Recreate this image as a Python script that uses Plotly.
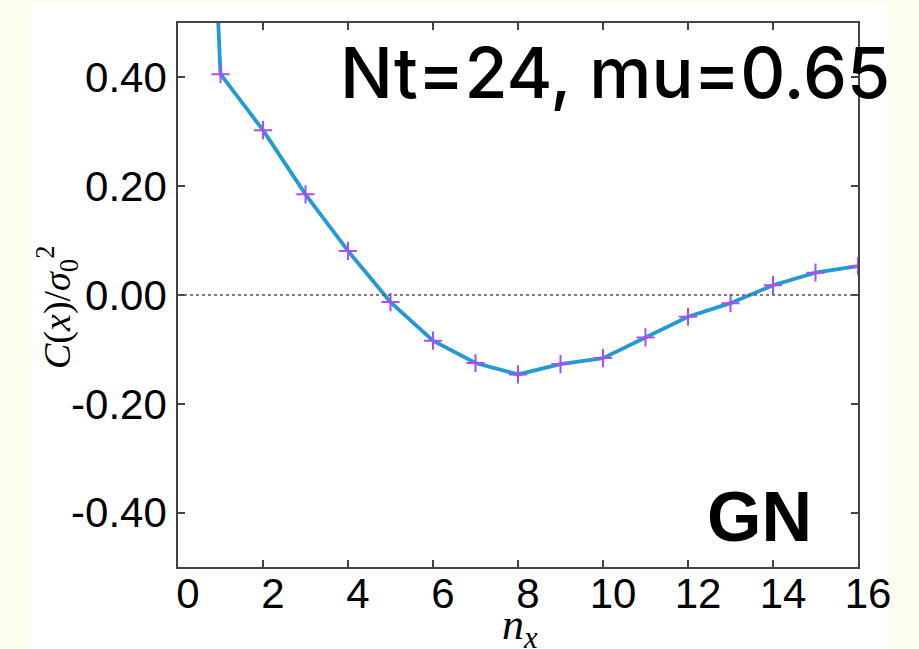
import plotly.graph_objects as go

# Data
n_x = [0, 1, 2, 3, 4, 5, 6, 7, 8, 9, 10, 11, 12, 13, 14, 15, 16]
corr = [2.2, 0.406, 0.303, 0.185, 0.081, -0.013, -0.084, -0.125, -0.146,
        -0.127, -0.116, -0.078, -0.040, -0.015, 0.018, 0.041, 0.053]

x_tick_vals = [0, 2, 4, 6, 8, 10, 12, 14, 16]
x_tick_text = ["0", "2", "4", "6", "8", "10", "12", "14", "16"]
y_tick_vals = [-0.4, -0.2, 0.0, 0.2, 0.4]
y_tick_text = ["-0.40", "-0.20", "0.00", "0.20", "0.40"]

title_text = "Nt=24, mu=0.65"
label_text = "GN"
x_title = "<i>n</i><sub><i>x</i></sub>"
y_title = "<i>C</i>(<i>x</i>)/<i>σ</i><sub>0</sub><sup>2</sup>"

W, H = 919, 649
L, R, T, B = 178, 61, 23, 82
pw, ph = W - L - R, H - T - B

def px(xp):
    return (xp - L) / pw

def py(yp):
    return (H - B - yp) / ph

fig = go.Figure()

fig.add_trace(go.Scatter(
    x=n_x, y=corr, mode="lines+markers",
    line=dict(color="#2399d6", width=3.8),
    marker=dict(symbol="cross-thin", size=13, color="#b04cf0",
                line=dict(color="#b04cf0", width=2)),
    showlegend=False, cliponaxis=True,
))

# white panel on the cream background
fig.add_shape(type="rect", xref="paper", yref="paper",
              x0=px(31), x1=px(887), y0=py(660), y1=py(4),
              fillcolor="white", line=dict(width=0), layer="below")
# dotted zero line
fig.add_shape(type="line", xref="paper", yref="y", x0=0, x1=1, y0=0, y1=0,
              line=dict(color="#555555", width=1.5, dash="dot"))

fig.add_annotation(text=title_text, xref="paper", yref="paper",
                   x=px(338), y=py(72), xanchor="left", yanchor="middle",
                   showarrow=False,
                   font=dict(family="Inter", size=70, color="black", weight=500))
fig.add_annotation(text=label_text, xref="paper", yref="paper",
                   x=px(705), y=py(517), xanchor="left", yanchor="middle",
                   showarrow=False,
                   font=dict(family="Liberation Sans", size=70, color="black",
                             weight="bold"))
# axis titles
fig.add_annotation(text=x_title, xref="paper", yref="paper",
                   x=px(520), y=py(627), xanchor="center", yanchor="middle",
                   showarrow=False,
                   font=dict(family="Liberation Serif", size=44, color="black"))
fig.add_annotation(text=y_title, xref="paper", yref="paper", textangle=-90,
                   x=px(57), y=py(308), xanchor="center", yanchor="middle",
                   showarrow=False,
                   font=dict(family="Liberation Serif", size=38, color="black"))

axis_common = dict(
    showline=True, linecolor="#444444", linewidth=1.5, mirror="ticks",
    ticks="inside", ticklen=7, tickwidth=1.5, tickcolor="#444444",
    showgrid=False, zeroline=False, automargin=False,
    tickfont=dict(family="Liberation Sans", size=42, color="black"),
)

fig.update_xaxes(range=[0, 16], tickvals=x_tick_vals, ticktext=x_tick_text,
                 ticklabelshift=10, ticklabelstandoff=-11,
                 **axis_common)
fig.update_yaxes(range=[-0.5, 0.5], tickvals=y_tick_vals, ticktext=y_tick_text,
                 ticklabelstandoff=1,
                 **axis_common)

fig.update_layout(
    width=W, height=H,
    margin=dict(l=L, r=R, t=T, b=B, pad=0, autoexpand=False),
    paper_bgcolor="#fdfdf0", plot_bgcolor="white",
)

fig.write_html("out.html")
